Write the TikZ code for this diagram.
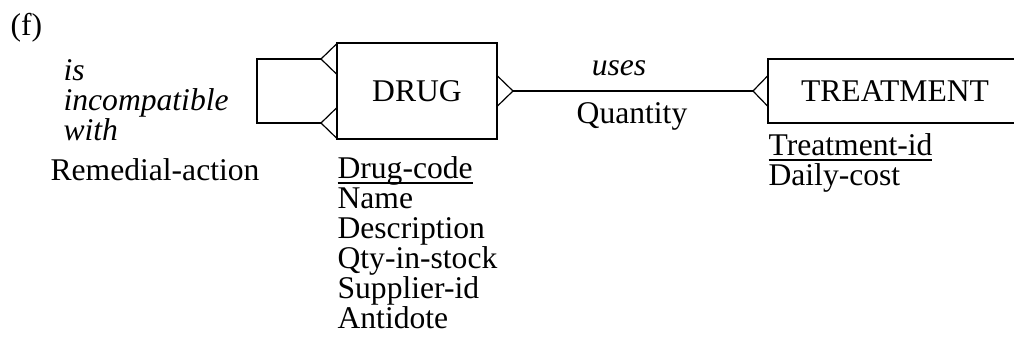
\documentclass[tikz,border=0pt]{standalone}
\usepackage{fontspec}
\setmainfont{Liberation Serif}
\usetikzlibrary{positioning}
\newcommand{\figfont}{\fontsize{15.8}{15}\selectfont}
\newcommand{\keyattr}[1]{\setbox0\hbox{#1}\rlap{\rule[-2.8pt]{\wd0}{0.9pt}}\box0}
\tikzset{
  entity/.style = {draw=black, rectangle, inner sep=0pt},
  attrs/.style = {align=left, inner sep=0pt, anchor=base west},
  relname/.style = {inner sep=0pt, anchor=base, font=\figfont\itshape}
}
\begin{document}
\begin{tikzpicture}[x=0.5pt,y=-0.5pt,line width=0.6pt,font=\figfont]
  \useasboundingbox (0,0) rectangle (1014,338);
  \node[inner sep=0pt, anchor=base west] (fig) at (10,35) {(f)};
  % entities
  \node[entity, minimum width=80pt, minimum height=48pt] (drug) at (417,91) {DRUG};
  \node[entity, minimum width=127pt, minimum height=32pt] (treat) at (895,91) {TREATMENT};
  % ends of the relationships
  \coordinate (loopA) at (321,59);
  \coordinate (loopB) at (321,123);
  \coordinate (usesA) at (513,91);
  \coordinate (usesB) at (753,91);
  \draw (loopA) -- ++(-64,0) |- (loopB);
  \draw (usesA) -- (usesB);
  % crow's feet
  \foreach \c in {loopA,loopB}
    \draw ([shift={(16,-15.5)}]\c) -- (\c) -- ([shift={(16,15.5)}]\c);
  \draw ([shift={(-16,-15.5)}]usesA) -- (usesA) -- ([shift={(-16,15.5)}]usesA);
  \draw ([shift={(15,-15.5)}]usesB) -- (usesB) -- ([shift={(15,15.5)}]usesB);
  % labels (base = last line)
  \node[relname, anchor=base west, align=left] (incomp) at (63,140) {is\\incompatible\\with};
  \node[attrs] (remedy) at (50,180) {Remedial-action};
  \node[relname] (uses) at (619,75) {uses};
  \node[inner sep=0pt, anchor=base] (qty) at (632,123) {Quantity};
  \node[attrs] (drugattrs) at (337,328)
    {\keyattr{Drug-code}\\Name\\Description\\Qty-in-stock\\Supplier-id\\Antidote};
  \node[attrs] (treatattrs) at (768,185) {\keyattr{Treatment-id}\\Daily-cost};
\end{tikzpicture}
\end{document}
